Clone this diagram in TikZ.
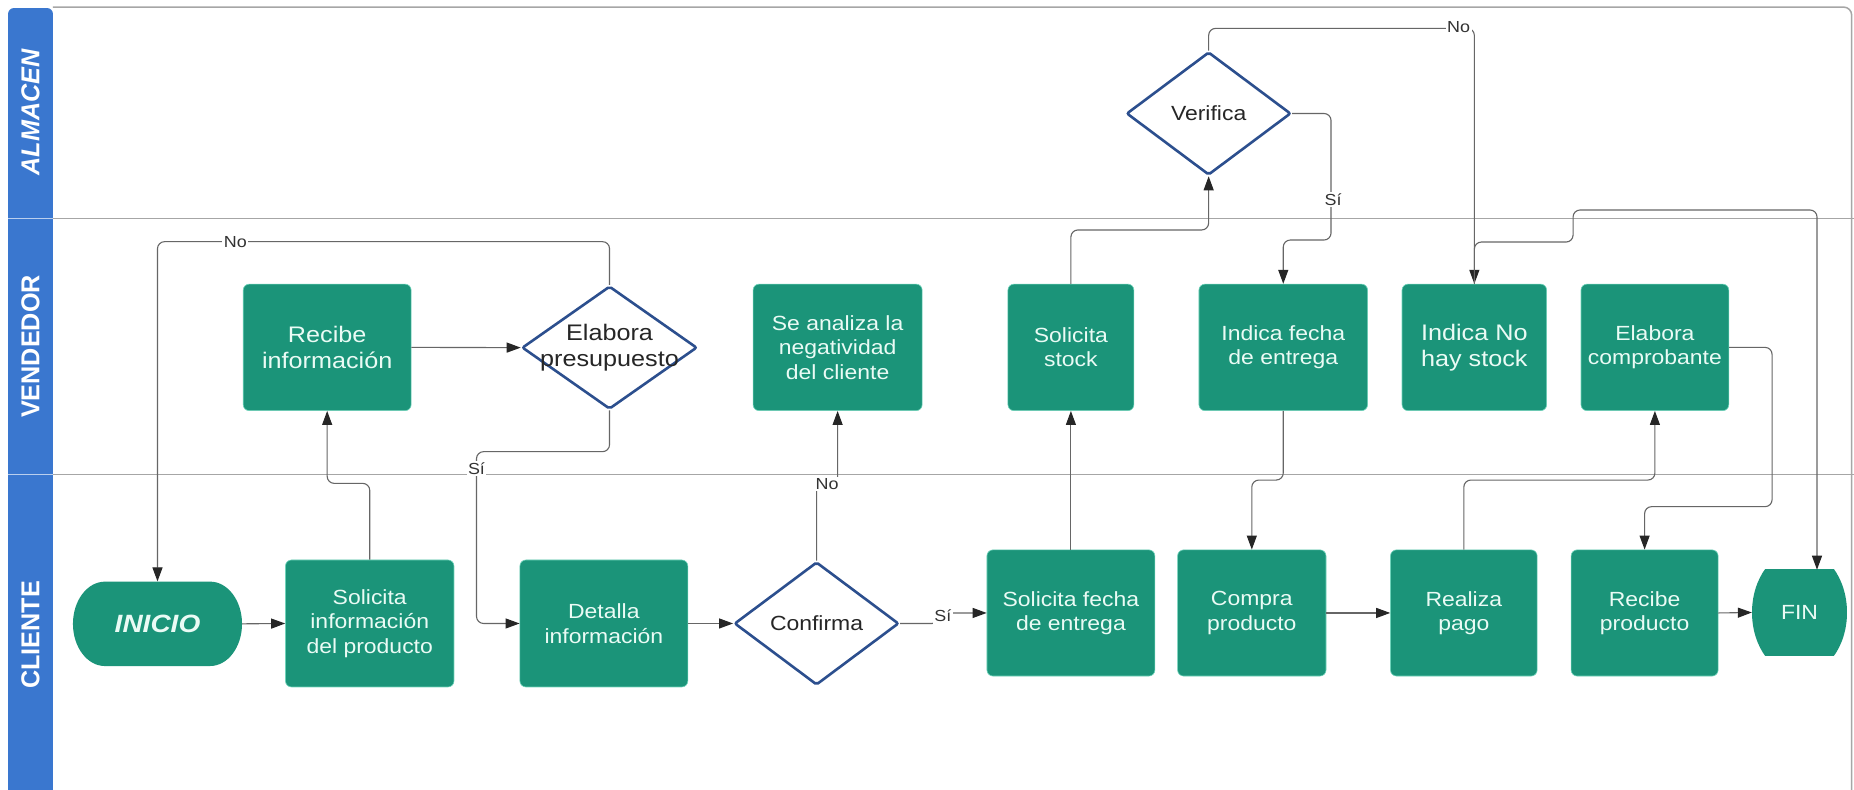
\documentclass[tikz,border=0pt]{standalone}
\usepackage{graphicx}
\usepackage{fontspec}
\setmainfont{Liberation Sans}[FakeStretch=1.12]
\usetikzlibrary{shapes.geometric,arrows.meta,calc}
\definecolor{boxgreen}{HTML}{1B9479}
\definecolor{boxedge}{HTML}{6FD3BA}
\definecolor{boxtext}{HTML}{EAFBF5}
\definecolor{lanebl}{HTML}{3A77CF}
\definecolor{dmdblue}{HTML}{2C4F8E}
\definecolor{conncol}{HTML}{666666}
\definecolor{laneln}{HTML}{A6A6A6}
\begin{document}
\begin{tikzpicture}[x=1.1824pt,y=-1.1824pt,
  sz/.style 2 args={minimum width={#1*1.1824pt},minimum height={#2*1.1824pt}},
  gbase/.style={fill=boxgreen,draw=boxedge,line width=0.6pt,text=boxtext,align=center,inner sep=2pt,font=\fontsize{20.5}{24.5}\selectfont},
  gbox/.style={gbase,rectangle,rounded corners=6pt},
  termbase/.style={rectangle,fill=white,draw=none,text=boxtext,align=center,inner sep=2pt,font=\fontsize{20.5}{24.5}\selectfont},
  bigtxt/.style={font=\fontsize{22.5}{26}\selectfont},
  dmd/.style={diamond,draw=dmdblue,line width=2.6pt,fill=white,inner sep=0pt,rounded corners=2pt},
  dtext/.style={align=center,text=black!85,font=\fontsize{20.5}{24.5}\selectfont},
  conn/.style={draw=conncol,line width=1.1pt,rounded corners=7pt},
  arr/.style={conn,-{Triangle[length=14pt,width=10pt,color=black!85]}},
  lbl/.style={fill=white,inner sep=1.5pt,text=black!80,font=\fontsize{16}{16}\selectfont},
  lanelab/.style={text=white,font=\bfseries\fontsize{22.5}{22.5}\selectfont,rotate=90},
]
\useasboundingbox (0,0) rectangle (1568,668);
\fill[white] (0,0) rectangle (1568,668);

% swimlanes
\fill[lanebl,rounded corners=6pt] (6.8,6.8) rectangle (44.8,690);
\draw[white!65!lanebl,line width=1.5pt] (6.8,185) -- (44.8,185) (6.8,401.5) -- (44.8,401.5);
\draw[laneln,line width=1.5pt] (44.8,185) -- (1568,185) (44.8,401.5) -- (1568,401.5);
\draw[laneln,line width=1.5pt,rounded corners=8pt] (44.8,6) -- (1566,6) -- (1566,668);
\node[lanelab] (lalm) at (25.8,95) {\scalebox{1}[1.15]{\itshape ALMACEN}};
\node[lanelab] (lven) at (25.8,293) {\scalebox{1}[1.15]{VENDEDOR}};
\node[lanelab] (lcli) at (25.8,537) {\scalebox{1}[1.15]{CLIENTE}};

% nodes
\node[termbase,sz={143}{71.4},font=\bfseries\itshape\fontsize{25}{25}\selectfont,
  path picture={\fill[boxgreen] ([xshift=32pt]path picture bounding box.north west) -- ([xshift=-32pt]path picture bounding box.north east)
    arc[start angle=90,end angle=-90,x radius=32pt,y radius=42.2pt] -- ([xshift=32pt]path picture bounding box.south west)
    arc[start angle=270,end angle=90,x radius=32pt,y radius=42.2pt] -- cycle;}] (inicio) at (133.2,527.6) {INICIO};
\node[gbox,sz={142.5}{107.4}] (solinfo) at (312.7,527.3) {Solicita\\información\\del producto};
\node[gbox,sz={142}{107},bigtxt] (recibe) at (276.7,293.8) {Recibe\\información};
\node[dmd,sz={148}{104}] (elab) at (515.5,294) {};
\node[dtext,bigtxt] (elabt) at (elab) {Elabora\\presupuesto};
\node[gbox,sz={142}{107.4}] (detalla) at (510.7,527.3) {Detalla\\información};
\node[dmd,sz={139}{104}] (confirma) at (690.6,527.3) {};
\node[dtext] (confirmat) at (confirma) {Confirma};
\node[gbox,sz={143}{107}] (analiza) at (708.4,293.8) {Se analiza la\\negatividad\\del cliente};
\node[gbox,sz={142}{106.7}] (solfecha) at (905.7,518.4) {Solicita fecha\\de entrega};
\node[gbox,sz={106.5}{107}] (stock) at (905.7,293.8) {Solicita\\stock};
\node[dmd,sz={139}{104}] (verifica) at (1022.2,96) {};
\node[dtext] (verificat) at (verifica) {Verifica};
\node[gbox,sz={142.6}{107}] (fecha) at (1085.3,293.8) {Indica fecha\\de entrega};
\node[gbox,sz={122.3}{107},bigtxt] (nohay) at (1246.9,293.8) {Indica No\\hay stock};
\node[gbox,sz={125}{107}] (compro) at (1399.6,293.8) {Elabora\\comprobante};
\node[gbox,sz={125.5}{106.7}] (compra) at (1058.7,518.4) {Compra\\producto};
\node[gbox,sz={124}{106.7}] (pago) at (1238,518.4) {Realiza\\pago};
\node[gbox,sz={124.3}{106.7}] (recprod) at (1390.9,518.4) {Recibe\\producto};
\node[termbase,sz={80.3}{72},
  path picture={\fill[boxgreen] (path picture bounding box.center) ellipse[x radius=47.5pt,y radius=63pt];}] (fin) at (1521.9,518) {FIN};

% connectors
\draw[arr] (inicio.east) -- (solinfo.west);
\draw[arr] (solinfo.north) -- (312.7,408.8) -- (276.7,408.8) -- (recibe.south);
\draw[arr] (recibe.east) -- (elab.west);
\draw[arr] (elab.north) -- (515.5,204.4) -- (133.2,204.4) -- (inicio.north);
\draw[arr] (elab.south) -- (515.5,382) -- (403,382) -- (403,527.3) -- (detalla.west);
\draw[arr] (detalla.east) -- (confirma.west);
\draw[arr] (confirma.north) -- (690.6,409) -- (708.4,409) -- (analiza.south);
\draw[arr,rounded corners=2pt] (confirma.east) -- (790,527.3) -- (804,518.4) -- (solfecha.west);
\draw[arr] (solfecha.north) -- (stock.south);
\draw[arr] (stock.north) -- (905.7,194.5) -- (1022.2,194.5) -- (verifica.south);
\draw[arr] (verifica.east) -- (1125.7,96) -- (1125.7,203) -- (1085.3,203) -- (fecha.north);
\draw[arr] (verifica.north) -- (1022.2,24) -- (1246.9,24) -- (nohay.north);
\draw[arr] (fecha.south) -- (1085.3,406) -- (1058.7,406) -- (compra.north);
\draw[arr] (compra.east) -- (pago.west);
\draw[arr] (pago.north) -- (1238,406) -- (1399.6,406) -- (compro.south);
\draw[arr] (compro.east) -- (1498.7,293.8) -- (1498.7,428.5) -- (1390.9,428.5) -- (recprod.north);
\draw[arr] (recprod.east) -- (fin.west);
\draw[arr] (nohay.north) -- (1246.9,204.7) -- (1330.4,204.7) -- (1330.4,177.6) -- (1536.7,177.6) -- ($(fin.north)+(14.8,0)$);

% connector labels
\node[lbl] (l1) at (199,204.4) {No};
\node[lbl] (l2) at (403,396) {Sí};
\node[lbl] (l3) at (699.5,409) {No};
\node[lbl] (l4) at (797.4,521) {Sí};
\node[lbl] (l5) at (1127.5,169) {Sí};
\node[lbl] (l6) at (1233.6,23) {No};
\end{tikzpicture}
\end{document}
